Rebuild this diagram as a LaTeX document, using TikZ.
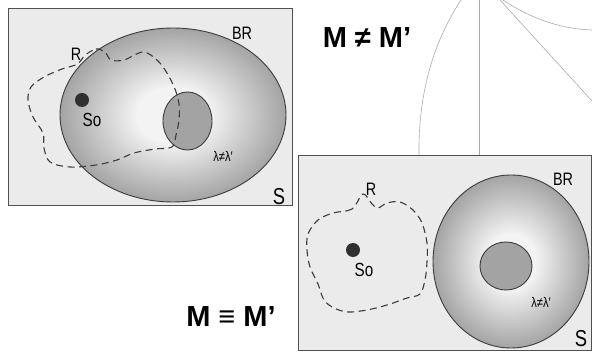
\documentclass[tikz,border=0pt]{standalone}
\usepackage{fontspec}
\setmainfont{Liberation Sans}
\newfontfamily\narrowfont[FakeStretch=0.8]{Liberation Sans}
\usetikzlibrary{shapes.geometric}
\definecolor{panelgray}{HTML}{EBEBEB}
\definecolor{edgedark}{HTML}{3C3C3C}
\definecolor{zoneouter}{HTML}{A4A4A4}
\definecolor{zoneinner}{HTML}{F3F3F3}
\definecolor{corefill}{HTML}{A3A3A3}
\definecolor{sourcedot}{HTML}{303030}
\definecolor{guideline}{HTML}{ABABAB}
\pgfdeclareradialshading{zoneshade}{\pgfpoint{0bp}{0bp}}{%
    color(0bp)=(zoneinner); color(8bp)=(zoneinner);
    color(25bp)=(zoneouter); color(50bp)=(zoneouter)}

\begin{document}
\begin{tikzpicture}[
    x=1pt, y=-1pt,
    panel/.style={
        draw=edgedark!90, line width=0.9pt,
        fill=panelgray, rectangle, inner sep=0pt
    },
    zone/.style={
        draw=edgedark, line width=0.9pt, ellipse, inner sep=0pt,
        shading=zoneshade
    },
    core/.style={
        draw=edgedark, line width=0.9pt, ellipse, inner sep=0pt,
        fill=corefill
    },
    source/.style={
        circle, fill=sourcedot, minimum size=14pt, inner sep=0pt
    },
    rloop/.style={
        draw=edgedark, line width=1.1pt, dash pattern=on 7pt off 4.5pt
    },
    guide/.style={
        draw=guideline, line width=0.6pt
    },
    tag/.style={
        font=\narrowfont\fontsize{#1}{#1}\selectfont, text=black, inner sep=0pt
    },
    relation/.style={
        font=\fontsize{29}{30}\selectfont\bfseries, inner sep=0pt
    },
]

\useasboundingbox (0,0) rectangle (592,352);

% === Guide lines in the background ===
\coordinate (g1a) at (419,155);
\coordinate (g1b) at (461,0);
\coordinate (g2a) at (479,155);
\coordinate (g2b) at (479,0);
\coordinate (g3a) at (500,0);
\coordinate (g3b) at (592,101);
\coordinate (g4a) at (503,0);
\coordinate (g4b) at (592,30);
\draw[guide] (g1a) .. controls (418,85) and (438,35) .. (g1b);
\draw[guide] (g2a) -- (g2b);
\draw[guide] (g3a) -- (g3b);
\draw[guide] (g4a) .. controls (530,18) and (560,29) .. (g4b);

% === Panel 1: M differs from M' ===
\node[panel, minimum width=284pt, minimum height=197pt] (panel1) at (150,106.5) {};
\node[zone, minimum width=226pt, minimum height=174pt] (br1) at (173,115) {};
\node[core, minimum width=49pt, minimum height=58pt] (core1) at (187.5,121) {};
\node[source] (so1) at (82,100) {};

% Region R (dashed)
\draw[rloop] plot[smooth cycle, tension=0.55] coordinates {
    (84,56) (96,49) (105,52) (111,60) (124,60) (143,52) (157,60)
    (167,73) (175,89) (179,104) (179,120) (176,135) (172,147)
    (155,149) (134,153) (117,160) (96,165) (70,167) (50,162)
    (44,148) (43,133) (33,117) (28,100) (31,87) (44,77) (62,69) (78,64)
};

\node[tag=19] (so1lbl) at (92,120) {So};
\node[tag=18] (r1lbl) at (76,54) {R};
\node[tag=18] (br1lbl) at (242,33) {BR};
\node[tag=14] (lam1) at (223,156) {λ≠λ′};
\node[tag=23] (s1lbl) at (279,197) {S};

% === Panel 2: M identical to M' ===
\node[panel, minimum width=293pt, minimum height=195pt] (panel2) at (444.5,252.5) {};
\node[zone, minimum width=156pt, minimum height=173pt] (br2) at (511,261.5) {};
\node[core, minimum width=52pt, minimum height=48pt] (core2) at (506,266) {};
\node[source] (so2) at (353,250) {};

% Region R (dashed)
\draw[rloop] plot[smooth cycle, tension=0.55] coordinates {
    (363,194) (352,209) (333,213) (318,220) (308,234) (307,250)
    (310,267) (318,284) (324,300) (334,308) (348,312) (367,310)
    (387,305) (407,298) (420,294) (425,280) (427,262) (427,243)
    (422,223) (413,210) (400,202) (387,203) (378,208) (372,204)
};

\node[tag=19] (so2lbl) at (364,270) {So};
\node[tag=18] (r2lbl) at (371,189) {R};
\node[tag=18] (br2lbl) at (563,179) {BR};
\node[tag=14] (lam2) at (541,302) {λ≠λ′};
\node[tag=23] (s2lbl) at (581,339) {S};

% === Relations ===
\node[relation] (neq) at (367,38) {M ≠ M’};
\node[relation] (equiv) at (231,317) {M ≡ M’};

\end{tikzpicture}
\end{document}
